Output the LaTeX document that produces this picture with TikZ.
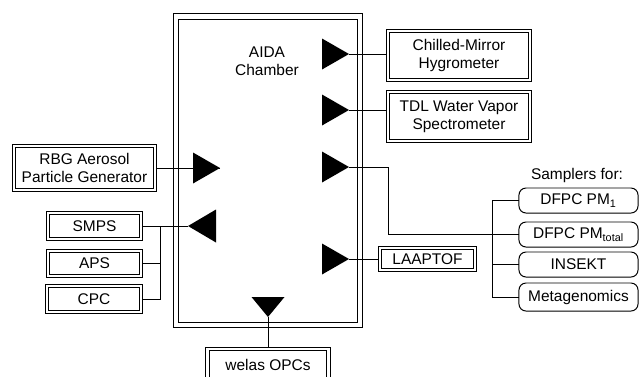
\documentclass[tikz,border=0pt]{standalone}
\usepackage{fontspec}
\setmainfont{Liberation Sans}
\usetikzlibrary{calc}

\begin{document}
\begin{tikzpicture}[x=0.025cm,y=-0.025cm,line width=0.7pt,font=\fontsize{11}{13}\selectfont]
\tikzstyle{dbox}=[draw,double,double distance=2.1pt,outer sep=1.75pt,inner sep=0pt,align=center]
\tikzstyle{rbox}=[draw,rounded corners=5pt,outer sep=0pt,inner sep=0pt,minimum width=2.975cm,align=center]
\useasboundingbox (0,0) rectangle (639,376);
\clip (0,0) rectangle (639,376);
\node[draw,double,double distance=3.2pt,minimum width=4.6cm,minimum height=7.71cm] (chamber) at (268,170.75) {};
\node[align=center] (aida) at (267,61) {AIDA\\Chamber};
\node[dbox,minimum width=3.55cm,minimum height=1.225cm] (chill) at (459,55.5) {Chilled-Mirror\\Hygrometer};
\node[dbox,minimum width=3.55cm,minimum height=1.225cm] (tdl) at (459,116.5) {TDL Water Vapor\\Spectrometer};
\node[dbox,minimum width=3.525cm,minimum height=1.1cm] (rbg) at (84.5,168) {RBG Aerosol\\Particle Generator};
\node[dbox,minimum width=2.325cm,minimum height=0.65cm] (smps) at (94.5,226) {SMPS};
\node[dbox,minimum width=2.325cm,minimum height=0.625cm] (aps) at (94.5,263.5) {APS};
\node[dbox,minimum width=2.35cm,minimum height=0.65cm] (cpc) at (94,299) {CPC};
\node[dbox,minimum width=2.375cm,minimum height=0.55cm] (laaptof) at (427.5,259) {LAAPTOF};
\node[dbox,minimum width=3.025cm,minimum height=0.8cm] (welas) at (268,365) {welas OPCs};
\node (samp) at (577,175) {Samplers for:};
\node[rbox,minimum height=0.625cm] (pm1) at (578.5,200.5) {DFPC PM\textsubscript{1}};
\node[rbox,minimum height=0.625cm] (pmt) at (578.5,234.5) {DFPC PM\textsubscript{total}};
\node[rbox,minimum height=0.625cm] (insekt) at (578.5,264.5) {INSEKT};
\node[rbox,minimum height=0.7cm] (meta) at (578.5,297) {Metagenomics};
\coordinate (trbg) at (220,168);
\coordinate (tchill) at (349,54);
\coordinate (ttdl) at (349,110);
\coordinate (tsamp) at (349,167);
\coordinate (tlaap) at (349,259);
\coordinate (tsmps) at (188,226);
\coordinate (twelas) at (268,317);
\coordinate (bend) at (388,167);
\coordinate (jsmps) at (160,226);
\coordinate (jsamp) at (492,200.5);
\foreach \p in {trbg,tchill,ttdl,tsamp,tlaap}
	\fill (\p) -- ++(-27,-15.5) -- ++(0,31) -- cycle;
\fill (tsmps) -- ++(28,-16.5) -- ++(0,33) -- cycle;
\fill (twelas) -- ++(-16.5,-20) -- ++(33,0) -- cycle;
\draw (tchill) -- (tchill -| chill.west);
\draw (ttdl) -- (ttdl -| tdl.west);
\draw (tlaap) -- (laaptof.west);
\draw (rbg.east) -- (trbg);
\draw (smps.east) -- (tsmps);
\draw (aps.east) -- (aps.east -| jsmps);
\draw (cpc.east) -| (jsmps);
\draw (twelas) -- (welas.north);
\draw (tsamp) -- (bend) |- (pmt.west);
\draw (pm1.west) -| (jsamp |- meta.west) -- (meta.west);
\draw (insekt.west) -- (insekt.west -| jsamp);
\end{tikzpicture}
\end{document}
